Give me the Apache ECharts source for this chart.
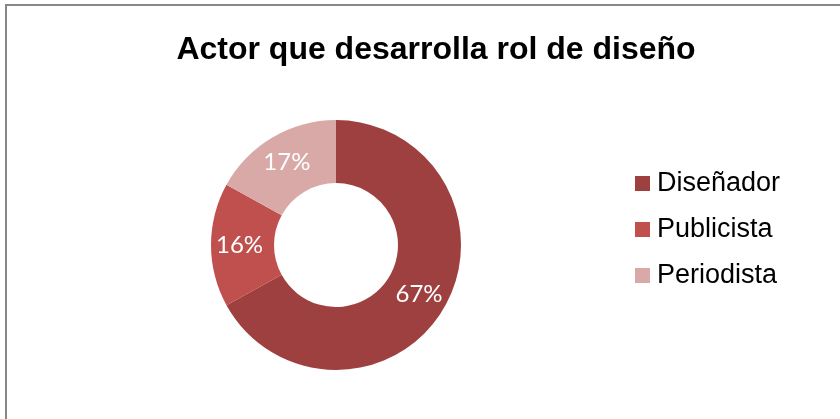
<!DOCTYPE html>
<html>
<head>
<meta charset="utf-8">
<script src="https://cdn.jsdelivr.net/npm/echarts@6/dist/echarts.min.js"></script>
<style>html,body{margin:0;padding:0;background:#fff}#c{width:840px;height:419px}</style>
</head>
<body>
<div id="c"></div>
<script>
var titleText = 'Actor que desarrolla rol de diseño';
var categories = ['Diseñador', 'Publicista', 'Periodista'];
var values = [67, 16, 17];
var colors = ['#9E403F', '#C0504D', '#D9A9A8'];

var chart = echarts.init(document.getElementById('c'), null, {renderer: 'canvas'});
chart.setOption({
  animation: false,
  backgroundColor: '#ffffff',
  color: colors,
  title: {
    text: titleText,
    left: 431,
    textAlign: 'center',
    top: 29,
    textStyle: {fontFamily: 'Liberation Sans, Arial', fontWeight: 'bold', fontSize: 32, color: '#000'}
  },
  graphic: [{
    type: 'rect',
    shape: {x: 6, y: 5, width: 900, height: 500},
    style: {fill: 'none', stroke: '#878787', lineWidth: 2},
    silent: true
  }],
  legend: {
    orient: 'vertical',
    left: 635,
    top: 170,
    padding: 0,
    itemWidth: 15,
    itemHeight: 15,
    itemGap: 19,
    icon: 'rect',
    data: categories,
    textStyle: {fontFamily: 'Liberation Sans, Arial', fontSize: 27, lineHeight: 27, color: '#000', padding: [0, 0, 0, 2]}
  },
  series: [{
    type: 'pie',
    center: [336, 245],
    radius: [62, 125],
    startAngle: 90,
    clockwise: true,
    avoidLabelOverlap: false,
    label: {
      show: true,
      position: 'inside',
      formatter: '{c}%',
      color: '#fff',
      fontFamily: 'Lato',
      fontSize: 24
    },
    labelLine: {show: false},
    itemStyle: {borderColor: 'transparent', borderWidth: 0},
    emphasis: {disabled: true},
    data: categories.map(function (n, i) { return {name: n, value: values[i]}; })
  }]
});
</script>
</body>
</html>
